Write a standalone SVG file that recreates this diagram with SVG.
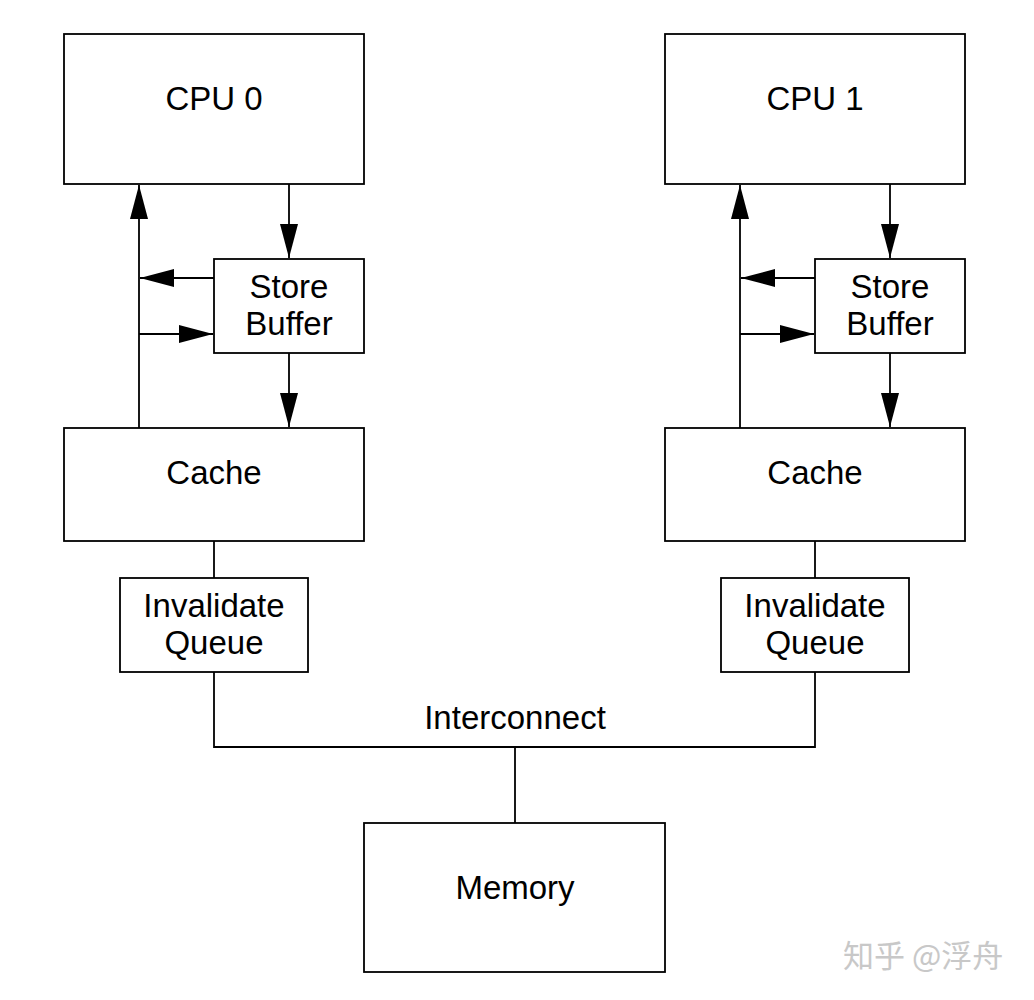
<svg xmlns="http://www.w3.org/2000/svg" width="1034" height="1000" viewBox="0 0 1034 1000">
<style>
.box{fill:#fff;stroke:#000;stroke-width:1.8}
.ln{fill:none;stroke:#000;stroke-width:1.8}
.t{font-family:"Liberation Sans",Arial,sans-serif;font-size:33px;fill:#000;text-anchor:middle}
.wm{font-family:"Noto Sans CJK SC","Liberation Sans",sans-serif;font-size:31px;fill:#c8c8c8}
</style>
<defs>
<marker id="ah" viewBox="0 0 34 18" refX="34" refY="9" markerWidth="34" markerHeight="18" markerUnits="userSpaceOnUse" orient="auto">
<path d="M0,0 L34,9 L0,18 Z" fill="#000"/>
</marker>
</defs>
<rect width="1034" height="1000" fill="#fff"/>
<g id="connectors">
<line class="ln" x1="139" y1="428" x2="139" y2="185" marker-end="url(#ah)"/>
<line class="ln" x1="289" y1="184" x2="289" y2="258" marker-end="url(#ah)"/>
<line class="ln" x1="214" y1="278" x2="140" y2="278" marker-end="url(#ah)"/>
<line class="ln" x1="139" y1="334" x2="213" y2="334" marker-end="url(#ah)"/>
<line class="ln" x1="289" y1="353" x2="289" y2="427" marker-end="url(#ah)"/>
<line class="ln" x1="740" y1="428" x2="740" y2="185" marker-end="url(#ah)"/>
<line class="ln" x1="890" y1="184" x2="890" y2="258" marker-end="url(#ah)"/>
<line class="ln" x1="815" y1="278" x2="741" y2="278" marker-end="url(#ah)"/>
<line class="ln" x1="740" y1="334" x2="814" y2="334" marker-end="url(#ah)"/>
<line class="ln" x1="890" y1="353" x2="890" y2="427" marker-end="url(#ah)"/>
<line class="ln" x1="214" y1="541" x2="214" y2="578"/>
<line class="ln" x1="815" y1="541" x2="815" y2="578"/>
<polyline class="ln" points="214,672 214,747 815,747 815,672"/>
<line class="ln" x1="515" y1="747" x2="515" y2="823"/>
</g>
<g id="cpu0"><rect class="box" x="64" y="34" width="300" height="150"/><text class="t" x="214" y="110">CPU 0</text></g>
<g id="cpu1"><rect class="box" x="665" y="34" width="300" height="150"/><text class="t" x="815" y="110">CPU 1</text></g>
<g id="sb0"><rect class="box" x="214" y="259" width="150" height="94"/><text class="t" x="289" y="298">Store</text><text class="t" x="289" y="335">Buffer</text></g>
<g id="sb1"><rect class="box" x="815" y="259" width="150" height="94"/><text class="t" x="890" y="298">Store</text><text class="t" x="890" y="335">Buffer</text></g>
<g id="cache0"><rect class="box" x="64" y="428" width="300" height="113"/><text class="t" x="214" y="484">Cache</text></g>
<g id="cache1"><rect class="box" x="665" y="428" width="300" height="113"/><text class="t" x="815" y="484">Cache</text></g>
<g id="iq0"><rect class="box" x="120" y="578" width="188" height="94"/><text class="t" x="214" y="617">Invalidate</text><text class="t" x="214" y="654">Queue</text></g>
<g id="iq1"><rect class="box" x="721" y="578" width="188" height="94"/><text class="t" x="815" y="617">Invalidate</text><text class="t" x="815" y="654">Queue</text></g>
<g id="interconnect"><text class="t" x="515" y="729">Interconnect</text></g>
<g id="memory"><rect class="box" x="364" y="823" width="301" height="149"/><text class="t" x="515" y="899">Memory</text></g>
<text class="wm" x="843" y="967">知乎 @浮舟</text>
</svg>
